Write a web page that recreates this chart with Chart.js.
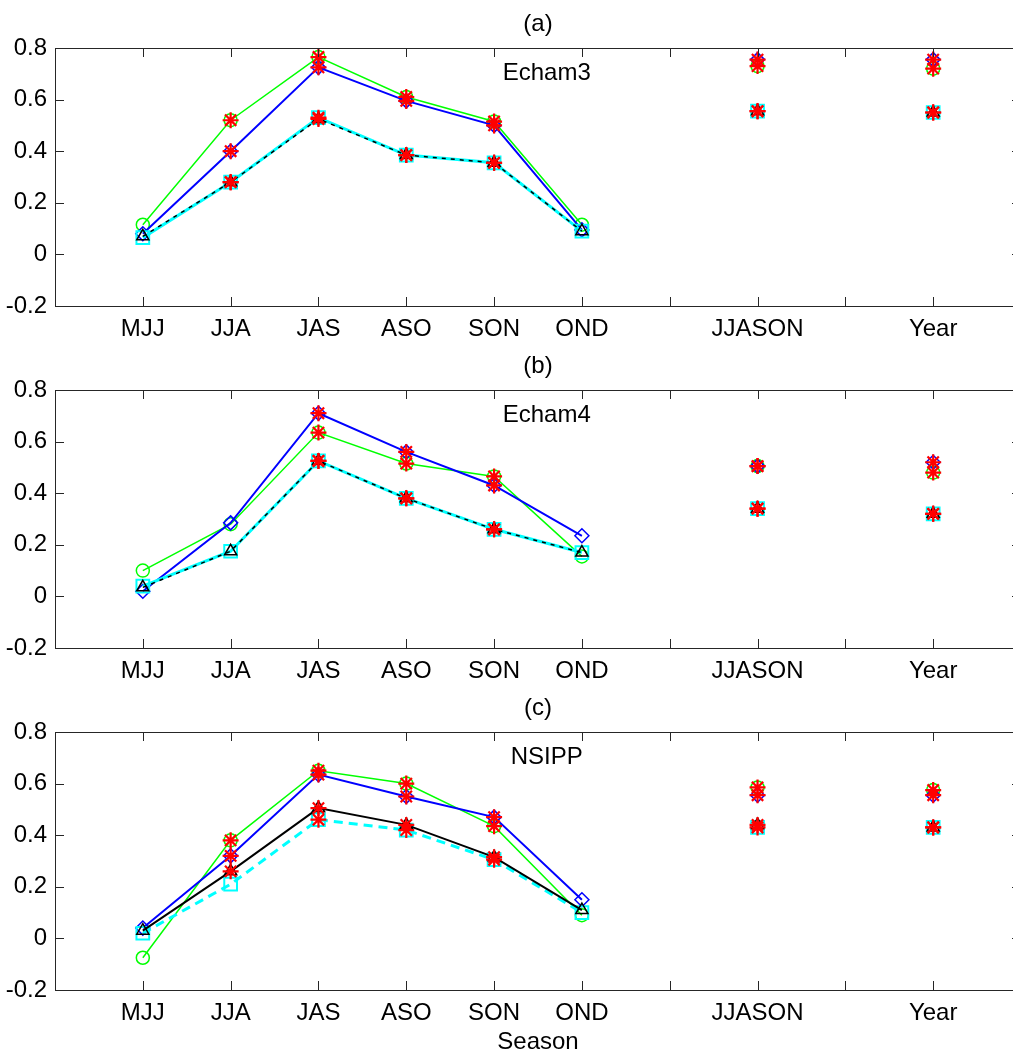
<!DOCTYPE html>
<html>
<head>
<meta charset="utf-8">
<script src="https://cdn.jsdelivr.net/npm/chart.js@4.4.1/dist/chart.umd.min.js"></script>
<style>
  html, body { margin: 0; padding: 0; background: #fff; overflow: hidden; }
  body { width: 1013px; height: 1057px; position: relative; }
  canvas { position: absolute; left: 0; }
</style>
</head>
<body>
<canvas id="panelA" width="1032" height="346" style="top:0px"></canvas>
<canvas id="panelB" width="1032" height="346" style="top:342px"></canvas>
<canvas id="panelC" width="1032" height="373" style="top:684px"></canvas>
<script>
// x positions: MJJ..OND are 1..6, JJASON at 8, Year at 10
const tickLabels = ['MJJ', 'JJA', 'JAS', 'ASO', 'SON', 'OND', '', 'JJASON', '', 'Year'];
const xPositions = [1, 2, 3, 4, 5, 6, 8, 10];

// values: MJJ, JJA, JAS, ASO, SON, OND, JJASON, Year
// (a) Echam3
const echam3Green = [0.115, 0.52, 0.765, 0.61, 0.515, 0.115, 0.73, 0.72];
const echam3Blue  = [0.08, 0.40, 0.725, 0.595, 0.50, 0.095, 0.755, 0.755];
const echam3Black = [0.07, 0.28, 0.525, 0.385, 0.355, 0.09, 0.555, 0.55];
const echam3Cyan  = [0.065, 0.28, 0.53, 0.385, 0.355, 0.09, 0.555, 0.55];
// (b) Echam4
const echam4Green = [0.10, 0.28, 0.635, 0.515, 0.465, 0.155, 0.505, 0.48];
const echam4Blue  = [0.02, 0.285, 0.71, 0.56, 0.43, 0.235, 0.505, 0.52];
const echam4Black = [0.035, 0.175, 0.525, 0.38, 0.26, 0.17, 0.34, 0.32];
const echam4Cyan  = [0.04, 0.175, 0.525, 0.38, 0.26, 0.17, 0.34, 0.32];
// (c) NSIPP
const nsippGreen = [-0.075, 0.38, 0.65, 0.60, 0.435, 0.09, 0.585, 0.575];
const nsippBlue  = [0.04, 0.32, 0.635, 0.55, 0.47, 0.15, 0.555, 0.555];
const nsippBlack = [0.03, 0.26, 0.505, 0.44, 0.315, 0.11, 0.44, 0.43];
const nsippCyan  = [0.02, 0.21, 0.46, 0.42, 0.305, 0.10, 0.43, 0.43];

// significant points (red asterisks), 1 = marked
const echam3GreenSig = [0, 1, 1, 1, 1, 0, 1, 1];
const echam3BlueSig  = [0, 1, 1, 1, 1, 0, 1, 1];
const echam3BlackSig = [0, 1, 1, 1, 1, 0, 1, 1];
const echam3CyanSig  = [0, 1, 1, 1, 1, 0, 1, 1];
const echam4GreenSig = [0, 0, 1, 1, 1, 0, 1, 1];
const echam4BlueSig  = [0, 0, 1, 1, 1, 0, 1, 1];
const echam4BlackSig = [0, 0, 1, 1, 1, 0, 1, 1];
const echam4CyanSig  = [0, 0, 1, 1, 1, 0, 1, 1];
const nsippGreenSig = [0, 1, 1, 1, 1, 0, 1, 1];
const nsippBlueSig  = [0, 1, 1, 1, 1, 0, 1, 1];
const nsippBlackSig = [0, 1, 1, 1, 1, 0, 1, 1];
const nsippCyanSig  = [0, 0, 1, 1, 1, 0, 1, 1];

const FONT = "'Liberation Sans', Arial, Helvetica, sans-serif";
Chart.defaults.font.family = FONT;
Chart.defaults.font.size = 24;
Chart.defaults.color = '#000';

function linePoints(values) {
    const pts = [];
    values.forEach((v, i) => {
        // break the line between OND and the annual points
        if (i > 0 && xPositions[i] - xPositions[i - 1] > 1) {
            pts.push({ x: xPositions[i] - 1, y: null });
        }
        pts.push({ x: xPositions[i], y: v });
    });
    return pts;
}

function sigPoints(values, flags) {
    return values
        .map((v, i) => ({ x: xPositions[i], y: v }))
        .filter((p, i) => flags[i]);
}

function seriesDataset(values, color, style, radius, width, dash, markerWidth) {
    return {
        data: linePoints(values),
        borderColor: color,
        borderWidth: width,
        borderDash: dash,
        pointStyle: style,
        pointRadius: radius,
        pointBorderColor: color,
        pointBackgroundColor: 'rgba(0,0,0,0)',
        pointBorderWidth: markerWidth,
        spanGaps: false,
        tension: 0,
        fill: false
    };
}

const boxPlugin = {
    id: 'box',
    afterDatasetsDraw(chart, args, opts) {
        const { ctx, chartArea: a, scales: { x, y } } = chart;
        ctx.save();
        ctx.strokeStyle = '#262626';
        ctx.lineWidth = 1;
        ctx.beginPath();
        x.ticks.forEach(t => {
            if (t.value < 1 || t.value > 10) return;
            const px = Math.round(x.getPixelForValue(t.value)) + 0.5;
            ctx.moveTo(px, a.bottom); ctx.lineTo(px, a.bottom - 9);
            ctx.moveTo(px, a.top); ctx.lineTo(px, a.top + 9);
        });
        y.ticks.forEach(t => {
            const py = Math.round(y.getPixelForValue(t.value)) + 0.5;
            ctx.moveTo(a.left, py); ctx.lineTo(a.left + 9, py);
            ctx.moveTo(a.right, py); ctx.lineTo(a.right - 9, py);
        });
        ctx.stroke();
        ctx.strokeRect(Math.round(a.left) + 0.5, Math.round(a.top) + 0.5,
            Math.round(a.right - a.left), Math.round(a.bottom - a.top));
        // model name inside the panel
        ctx.fillStyle = '#000';
        ctx.font = '24px ' + FONT;
        ctx.textAlign = 'center';
        ctx.textBaseline = 'middle';
        ctx.fillText(opts.label, x.getPixelForValue(opts.at[0]), y.getPixelForValue(opts.at[1]));
        ctx.restore();
    }
};

function makeChart(id, title, model, green, blue, black, cyan, sigs, last) {
    const stars = [].concat(
        sigPoints(green, sigs[0]), sigPoints(blue, sigs[1]),
        sigPoints(black, sigs[2]), sigPoints(cyan, sigs[3]));
    const blackDash = last ? [] : [4, 5];
    const cyanDash = last ? [9, 6] : [];
    const datasets = [
        {
            data: stars,
            showLine: false,
            pointStyle: 'star',
            pointRadius: 8,
            pointBorderColor: '#ff0000',
            pointBackgroundColor: '#ff0000',
            pointBorderWidth: 2.2
        },
        seriesDataset(black, '#000000', 'triangle', 7, last ? 2 : 1.5, blackDash, 1.5),
        seriesDataset(cyan, '#00ffff', 'rect', 9, 3, cyanDash, 2),
        seriesDataset(blue, '#0000ff', 'rectRot', 7, 2, [], 1.5),
        seriesDataset(green, '#00ff00', 'circle', 6.5, 1.5, [], 1.5)
    ];

    new Chart(document.getElementById(id), {
        type: 'line',
        data: { datasets: datasets },
        plugins: [boxPlugin],
        options: {
            responsive: false,
            animation: false,
            events: [],
            layout: { padding: 0 },
            scales: {
                x: {
                    type: 'linear',
                    min: 0,
                    max: 11,
                    grid: { display: false, drawTicks: false },
                    border: { display: false },
                    afterFit: scale => { scale.height = last ? 67 : 40; },
                    ticks: {
                        stepSize: 1,
                        autoSkip: false,
                        maxRotation: 0,
                        padding: 9,
                        color: '#000',
                        callback: v => (v >= 1 && v <= 10 ? tickLabels[v - 1] : '')
                    },
                    title: {
                        display: last,
                        text: 'Season',
                        color: '#000',
                        padding: { top: 0, bottom: 0 }
                    }
                },
                y: {
                    min: -0.2,
                    max: 0.8,
                    grid: { display: false, drawTicks: false },
                    border: { display: false },
                    afterFit: scale => { scale.width = 55; },
                    ticks: {
                        stepSize: 0.2,
                        padding: 8,
                        color: '#000',
                        callback: v => String(Math.round(v * 10) / 10)
                    }
                }
            },
            plugins: {
                legend: { display: false },
                tooltip: { enabled: false },
                title: {
                    display: true,
                    text: title,
                    fullSize: false,
                    color: '#000',
                    font: { size: 24, weight: 'normal' },
                    padding: { top: 10, bottom: 9.2 }
                },
                box: { label: model, at: [5.6, 0.70] }
            }
        }
    });
}

makeChart('panelA', '(a)', 'Echam3', echam3Green, echam3Blue, echam3Black, echam3Cyan,
    [echam3GreenSig, echam3BlueSig, echam3BlackSig, echam3CyanSig], false);
makeChart('panelB', '(b)', 'Echam4', echam4Green, echam4Blue, echam4Black, echam4Cyan,
    [echam4GreenSig, echam4BlueSig, echam4BlackSig, echam4CyanSig], false);
makeChart('panelC', '(c)', 'NSIPP', nsippGreen, nsippBlue, nsippBlack, nsippCyan,
    [nsippGreenSig, nsippBlueSig, nsippBlackSig, nsippCyanSig], true);
</script>
</body>
</html>
